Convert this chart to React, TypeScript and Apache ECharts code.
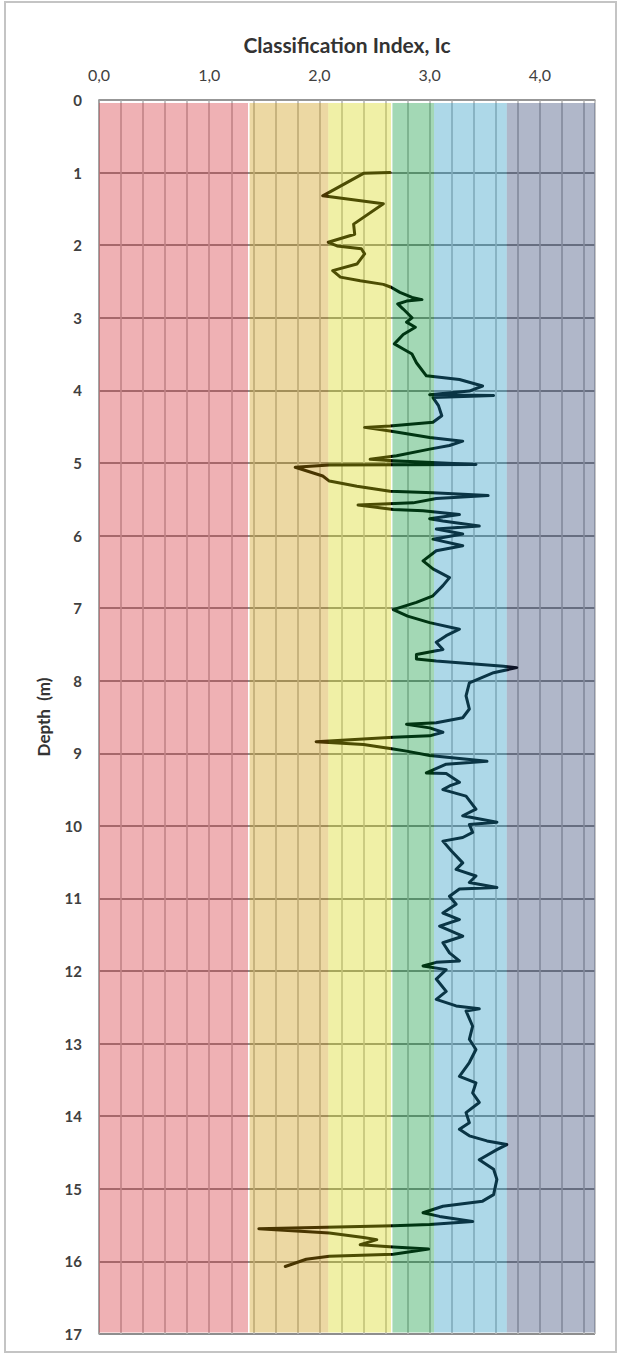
import React, { useEffect, useRef } from "react";
import * as echarts from "echarts";

// Depth (m) of each traced point
const depth = [
  1.0, 1.01, 1.32, 1.43, 1.71, 1.85, 1.96, 2.01, 2.05, 2.12, 2.26, 2.35, 2.44, 2.49, 2.54, 2.58, 2.65, 2.72, 2.75, 2.77,
  2.81, 2.88, 3.0, 3.06, 3.13, 3.23, 3.36, 3.43, 3.5, 3.62, 3.8, 3.85, 3.94, 4.01, 4.06, 4.07, 4.1, 4.21, 4.35, 4.44,
  4.49, 4.51, 4.56, 4.65, 4.7, 4.76, 4.81, 4.9, 4.95, 4.97, 5.02, 5.03, 5.06, 5.18, 5.25, 5.32, 5.39, 5.41, 5.45, 5.49,
  5.55, 5.58, 5.64, 5.66, 5.71, 5.77, 5.8, 5.87, 5.91, 5.98, 6.05, 6.14, 6.21, 6.35, 6.46, 6.58, 6.69, 6.83, 6.92, 7.02,
  7.11, 7.2, 7.29, 7.38, 7.47, 7.57, 7.64, 7.7, 7.73, 7.8, 7.82, 7.89, 8.03, 8.21, 8.39, 8.51, 8.58, 8.6, 8.65, 8.71,
  8.76, 8.78, 8.84, 8.88, 8.94, 8.97, 9.03, 9.11, 9.15, 9.27, 9.28, 9.4, 9.45, 9.5, 9.59, 9.77, 9.86, 9.95, 9.98, 10.09,
  10.16, 10.21, 10.35, 10.51, 10.6, 10.69, 10.78, 10.85, 10.87, 10.97, 11.08, 11.2, 11.29, 11.38, 11.52, 11.61, 11.75, 11.86, 11.88, 11.93,
  11.98, 12.11, 12.28, 12.39, 12.48, 12.52, 12.55, 12.76, 12.94, 13.08, 13.26, 13.45, 13.54, 13.68, 13.81, 13.95, 14.09, 14.18, 14.27, 14.34,
  14.39, 14.46, 14.6, 14.73, 14.87, 15.08, 15.17, 15.24, 15.33, 15.38, 15.45, 15.49, 15.51, 15.55, 15.61, 15.67, 15.7, 15.77, 15.8, 15.83,
  15.9, 15.93, 15.97, 16.07,
];

// Classification index Ic at each depth
const ic = [
  2.64, 2.4, 2.03, 2.58, 2.31, 2.32, 2.08, 2.16, 2.38, 2.41, 2.34, 2.12, 2.19, 2.37, 2.58, 2.65, 2.73, 2.84, 2.93, 2.79,
  2.71, 2.76, 2.84, 2.79, 2.87, 2.76, 2.68, 2.76, 2.84, 2.88, 2.97, 3.27, 3.48, 3.36, 3.0, 3.58, 3.03, 3.08, 3.11, 3.03,
  2.64, 2.41, 2.64, 3.0, 3.3, 3.18, 3.0, 2.7, 2.46, 2.67, 3.42, 2.09, 1.78, 2.03, 2.09, 2.34, 2.64, 3.03, 3.53, 3.06,
  2.85, 2.35, 2.67, 2.94, 3.27, 3.0, 3.12, 3.45, 3.06, 3.3, 3.03, 3.3, 3.06, 2.94, 3.03, 3.18, 3.12, 3.03, 2.88, 2.67,
  2.8, 3.0, 3.27, 3.15, 3.06, 3.12, 2.88, 2.88, 3.06, 3.67, 3.79, 3.58, 3.36, 3.33, 3.36, 3.3, 3.06, 2.79, 3.0, 3.12,
  3.0, 2.67, 1.97, 2.4, 2.67, 2.79, 3.0, 3.52, 3.15, 2.97, 3.15, 3.27, 3.18, 3.12, 3.33, 3.42, 3.3, 3.61, 3.36, 3.39,
  3.3, 3.12, 3.2, 3.3, 3.24, 3.42, 3.36, 3.61, 3.27, 3.18, 3.24, 3.12, 3.27, 3.09, 3.3, 3.12, 3.18, 3.27, 3.06, 2.94,
  3.15, 3.06, 3.15, 3.06, 3.24, 3.45, 3.33, 3.39, 3.36, 3.42, 3.36, 3.27, 3.42, 3.39, 3.45, 3.33, 3.36, 3.27, 3.36, 3.52,
  3.7, 3.61, 3.45, 3.58, 3.61, 3.58, 3.48, 3.12, 2.94, 3.09, 3.39, 3.0, 2.67, 1.45, 2.09, 2.4, 2.52, 2.37, 2.67, 2.99,
  2.67, 2.09, 1.88, 1.69,
];

// Soil behaviour zones along Ic
const zoneStart = [0, 1.366, 2.08, 2.662, 3.04, 3.7];
const zoneEnd = [1.352, 2.08, 2.65, 3.04, 3.7, 4.5];
const zoneTop = 0.04;
const zoneBottom = 16.98;

const depthTicks = { min: 0, max: 17, step: 1 };
const icTicks = { min: 0, max: 4.5, step: 0.2 };

const zoneColors = [
  "rgba(211,39,47,0.36)",
  "rgba(203,147,0,0.36)",
  "rgba(214,214,8,0.36)",
  "rgba(0,147,50,0.36)",
  "rgba(28,147,192,0.36)",
  "rgba(36,56,106,0.36)",
];

export default function App() {
  const ref = useRef<HTMLDivElement>(null);

  useEffect(() => {
    if (!ref.current) return;
    const chart = echarts.init(ref.current, undefined, { renderer: "svg" });
    const points = depth.map((d, i) => [ic[i], d]);
    const areas = zoneStart.map((s, i) => [
      { xAxis: s, yAxis: zoneTop, itemStyle: { color: zoneColors[i] } },
      { xAxis: zoneEnd[i], yAxis: zoneBottom },
    ]);
    const font = "Lato, 'Open Sans', sans-serif";
    chart.setOption({
      animation: false,
      backgroundColor: "#ffffff",
      grid: { left: 99, right: 26, top: 100, bottom: 23, containLabel: false },
      graphic: [
        {
          type: "rect",
          shape: { x: 5, y: 2, width: 611, height: 1350 },
          style: { fill: "none", stroke: "#c4c4c4", lineWidth: 2 },
          silent: true,
        },
      ],
      xAxis: {
        type: "value",
        position: "top",
        min: icTicks.min,
        max: icTicks.max,
        interval: icTicks.step,
        name: "Classification Index, Ic",
        nameLocation: "middle",
        nameGap: 45,
        nameTextStyle: { fontFamily: font, fontSize: 21, fontWeight: "bold", color: "#333" },
        axisLine: { show: true, lineStyle: { color: "#9a9a9a", width: 1.5 } },
        axisTick: { show: false },
        axisLabel: {
          margin: 18,
          fontFamily: font,
          fontSize: 16,
          color: "#404040",
          formatter: (v: number) => {
            const r = Math.round(v * 1000) / 1000;
            return Number.isInteger(r) ? r.toFixed(1).replace(".", ",") : "";
          },
        },
        splitLine: { show: true, lineStyle: { color: "#b8b8b8", width: 1.6 } },
      },
      yAxis: {
        type: "value",
        inverse: true,
        min: depthTicks.min,
        max: depthTicks.max,
        interval: depthTicks.step,
        name: "Depth  (m)",
        nameLocation: "middle",
        nameGap: 47,
        nameRotate: 90,
        nameTextStyle: { fontFamily: font, fontSize: 17, fontWeight: "bold", color: "#333" },
        axisLine: { show: true, lineStyle: { color: "#9a9a9a", width: 1.5 } },
        axisTick: { show: false },
        axisLabel: { margin: 17, fontFamily: font, fontSize: 15, fontWeight: "bold", color: "#404040" },
        splitLine: { show: true, lineStyle: { color: "#8e8e8e", width: 2 } },
      },
      series: [
        {
          type: "line",
          data: points,
          symbol: "none",
          z: 2,
          lineStyle: { color: "#000000", width: 3, join: "round", cap: "round" },
        },
        {
          type: "line",
          data: [],
          symbol: "none",
          z: 3,
          silent: true,
          markArea: { silent: true, z: 5, data: areas },
        },
      ],
    });
    return () => chart.dispose();
  }, []);

  return (
    <div
      ref={ref}
      style={{ position: "fixed", left: 0, top: 0, width: 621, height: 1357 }}
    />
  );
}
